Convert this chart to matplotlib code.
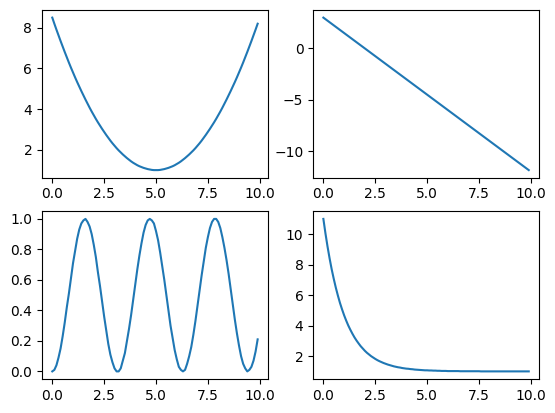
import matplotlib
matplotlib.use("Agg")
import matplotlib.pyplot as plt

# abscisses communes (pas de 0.1)
x = [0.0, 0.1, 0.2, 0.3, 0.4, 0.5, 0.6, 0.7, 0.8, 0.9,
     1.0, 1.1, 1.2, 1.3, 1.4, 1.5, 1.6, 1.7, 1.8, 1.9,
     2.0, 2.1, 2.2, 2.3, 2.4, 2.5, 2.6, 2.7, 2.8, 2.9,
     3.0, 3.1, 3.2, 3.3, 3.4, 3.5, 3.6, 3.7, 3.8, 3.9,
     4.0, 4.1, 4.2, 4.3, 4.4, 4.5, 4.6, 4.7, 4.8, 4.9,
     5.0, 5.1, 5.2, 5.3, 5.4, 5.5, 5.6, 5.7, 5.8, 5.9,
     6.0, 6.1, 6.2, 6.3, 6.4, 6.5, 6.6, 6.7, 6.8, 6.9,
     7.0, 7.1, 7.2, 7.3, 7.4, 7.5, 7.6, 7.7, 7.8, 7.9,
     8.0, 8.1, 8.2, 8.3, 8.4, 8.5, 8.6, 8.7, 8.8, 8.9,
     9.0, 9.1, 9.2, 9.3, 9.4, 9.5, 9.6, 9.7, 9.8, 9.9]

# haut gauche : parabole
y_parabole = [8.50, 8.20, 7.91, 7.63, 7.35, 7.08, 6.81, 6.55, 6.29, 6.04,
              5.80, 5.56, 5.33, 5.11, 4.89, 4.68, 4.47, 4.27, 4.07, 3.88,
              3.70, 3.52, 3.35, 3.19, 3.03, 2.88, 2.73, 2.59, 2.45, 2.32,
              2.20, 2.08, 1.97, 1.87, 1.77, 1.68, 1.59, 1.51, 1.43, 1.36,
              1.30, 1.24, 1.19, 1.15, 1.11, 1.08, 1.05, 1.03, 1.01, 1.00,
              1.00, 1.00, 1.01, 1.03, 1.05, 1.08, 1.11, 1.15, 1.19, 1.24,
              1.30, 1.36, 1.43, 1.51, 1.59, 1.68, 1.77, 1.87, 1.97, 2.08,
              2.20, 2.32, 2.45, 2.59, 2.73, 2.88, 3.03, 3.19, 3.35, 3.52,
              3.70, 3.88, 4.07, 4.27, 4.47, 4.68, 4.89, 5.11, 5.33, 5.56,
              5.80, 6.04, 6.29, 6.55, 6.81, 7.08, 7.35, 7.63, 7.91, 8.20]

# haut droite : droite
x_droite = [0.0, 9.9]
y_droite = [3.0, -11.85]

# bas gauche : oscillation
y_oscill = [0.00, 0.01, 0.04, 0.09, 0.15, 0.23, 0.32, 0.42, 0.51, 0.61,
            0.71, 0.79, 0.87, 0.93, 0.97, 0.99, 1.00, 0.98, 0.95, 0.90,
            0.83, 0.75, 0.65, 0.56, 0.46, 0.36, 0.27, 0.18, 0.11, 0.06,
            0.02, 0.00, 0.00, 0.02, 0.07, 0.12, 0.20, 0.28, 0.37, 0.47,
            0.57, 0.67, 0.76, 0.84, 0.91, 0.96, 0.99, 1.00, 0.99, 0.97,
            0.92, 0.86, 0.78, 0.69, 0.60, 0.50, 0.40, 0.30, 0.22, 0.14,
            0.08, 0.03, 0.01, 0.00, 0.01, 0.05, 0.10, 0.16, 0.24, 0.33,
            0.43, 0.53, 0.63, 0.72, 0.81, 0.88, 0.94, 0.98, 1.00, 1.00,
            0.98, 0.94, 0.88, 0.81, 0.73, 0.64, 0.54, 0.44, 0.34, 0.25,
            0.17, 0.10, 0.05, 0.02, 0.00, 0.01, 0.03, 0.07, 0.13, 0.21]

# bas droite : décroissance
y_decrois = [11.00, 10.05, 9.19, 8.41, 7.70, 7.07, 6.49, 5.97, 5.49, 5.07,
             4.68, 4.33, 4.01, 3.73, 3.47, 3.23, 3.02, 2.83, 2.65, 2.50,
             2.35, 2.22, 2.11, 2.00, 1.91, 1.82, 1.74, 1.67, 1.61, 1.55,
             1.50, 1.45, 1.41, 1.37, 1.33, 1.30, 1.27, 1.25, 1.22, 1.20,
             1.18, 1.17, 1.15, 1.14, 1.12, 1.11, 1.10, 1.09, 1.08, 1.07,
             1.07, 1.06, 1.06, 1.05, 1.05, 1.04, 1.04, 1.03, 1.03, 1.03,
             1.02, 1.02, 1.02, 1.02, 1.02, 1.02, 1.01, 1.01, 1.01, 1.01,
             1.01, 1.01, 1.01, 1.01, 1.01, 1.01, 1.00, 1.00, 1.00, 1.00,
             1.00, 1.00, 1.00, 1.00, 1.00, 1.00, 1.00, 1.00, 1.00, 1.00,
             1.00, 1.00, 1.00, 1.00, 1.00, 1.00, 1.00, 1.00, 1.00, 1.00]

fig, axs = plt.subplots(2, 2, figsize=(5.55, 4.13), dpi=100)
fig.subplots_adjust(left=0.0757, right=0.9712, top=0.9758, bottom=0.0823,
                    wspace=0.2, hspace=0.2)

axs[0, 0].plot(x, y_parabole)
axs[0, 1].plot(x_droite, y_droite)
axs[1, 0].plot(x, y_oscill)
axs[1, 1].plot(x, y_decrois)

fig.savefig("out.png", dpi=100)
